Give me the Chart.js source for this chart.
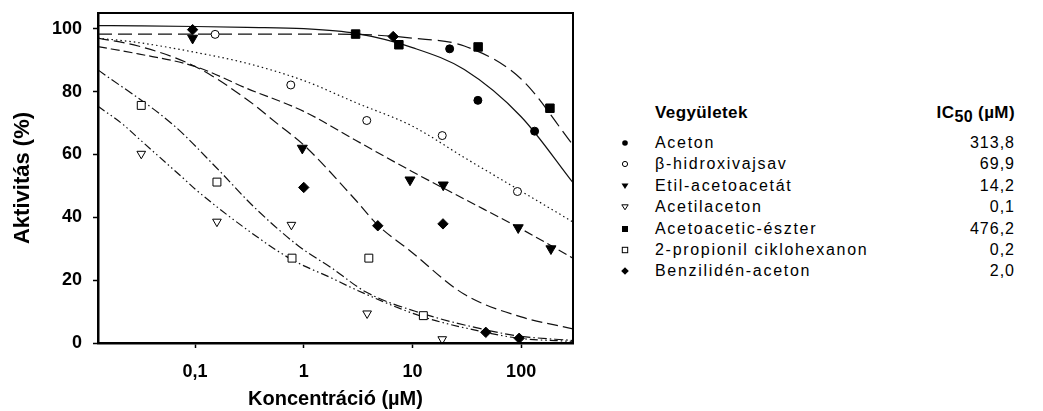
<!DOCTYPE html>
<html>
<head>
<meta charset="utf-8">
<script src="https://cdn.jsdelivr.net/npm/chart.js@4.4.0/dist/chart.umd.min.js"></script>
<style>
  body { margin: 0; background: #fff; width: 1043px; height: 411px; overflow: hidden; position: relative;
         font-family: "Liberation Sans", Arial, sans-serif; color: #000; }
  #plot { position: absolute; left: 0; top: 0; width: 600px; height: 411px; }
  .hdr { position: absolute; font-weight: bold; font-size: 17px; line-height: 18px; letter-spacing: 0.4px; white-space: nowrap; }
  .name { position: absolute; font-size: 16px; line-height: 18px; letter-spacing: 1.7px; white-space: nowrap; }
  .val { position: absolute; font-size: 16px; line-height: 18px; text-align: right; width: 90px; letter-spacing: 1px; }
  .mk { position: absolute; width: 10px; height: 10px; }
</style>
</head>
<body>
<div id="plot"><canvas id="chart"></canvas></div>
<div id="legend"></div>
<script>
// vegyületek és IC50 értékek
var compounds = ['Aceton', 'β-hidroxivajsav', 'Etil-acetoacetát', 'Acetilaceton', 'Acetoacetic-észter', '2-propionil ciklohexanon', 'Benzilidén-aceton'];
var ic50 = ['313,8', '69,9', '14,2', '0,1', '476,2', '0,2', '2,0'];

// tengely feliratai
var xTicks = [0.1, 1, 10, 100];
var xTickLabels = ['0,1', '1', '10', '100'];
var yTicks = [0, 20, 40, 60, 80, 100];

// mért pontok
var acetonX = [22, 40, 133];
var acetonY = [93.6, 77.2, 67.4];
var hidroxiX = [0.153, 0.76, 3.8, 18.8, 92.5];
var hidroxiY = [98.2, 82.1, 70.8, 66.0, 48.2];
var etilX = [0.095, 0.97, 9.5, 19.2, 94, 188];
var etilY = [97, 62, 51.9, 50.3, 36.7, 30];
var acetilX = [0.032, 0.159, 0.77, 3.83, 18.8];
var acetilY = [60.2, 38.6, 37.6, 9.4, 1.2];
var esterX = [3.0, 7.5, 40.2, 184];
var esterY = [98.3, 94.9, 94.2, 74.7];
var propX = [0.032, 0.159, 0.78, 3.97, 12.6];
var propY = [75.6, 51.2, 27.0, 27.0, 8.7];
var benzX = [0.095, 1.0, 4.8, 6.65, 19.1, 47.3, 95.9];
var benzY = [99.7, 49.5, 37.3, 97.5, 37.9, 3.4, 1.5];

// illesztett görbék
var fitX = [0.0128, 0.03, 0.1, 0.3, 1, 3, 10, 30, 100, 300];
var acetonFitY = [101, 100.9, 100.7, 100.4, 100, 98.5, 94, 87, 72, 51];
var esterFitY = [98.3, 98.3, 98.3, 98.3, 98.3, 98.2, 97, 94.5, 84, 63];
var hidroxiFitY = [97, 95.6, 92.5, 89, 83.5, 76.5, 69, 59, 48.3, 38.5];
var etilFitY = [94.3, 92, 88, 81, 73.7, 64.5, 54.5, 45.8, 36.3, 27];
var benzFitX = [0.0128, 0.03, 0.1, 0.3, 0.59, 1, 3, 4.8, 9.3, 30, 100, 300];
var benzFitY = [97, 94.5, 88, 77.5, 69.4, 63, 45.5, 37.5, 29.6, 15.5, 8.3, 4.5];
var acetilFitX = [0.0128, 0.022, 0.03, 0.084, 0.1, 0.32, 0.78, 1.82, 3, 12.3, 47, 96, 300];
var acetilFitY = [75.3, 69.4, 65.2, 51.4, 49, 35.4, 26.5, 20.6, 17, 8.4, 3.4, 1.5, 0.5];
var propFitX = [0.0128, 0.063, 0.159, 0.346, 0.9, 1.82, 3.7, 12.3, 47, 96, 300];
var propFitY = [86.9, 69.4, 55.6, 43.4, 30.8, 23.8, 16.3, 9.4, 4.2, 2.2, 0.8];

function pts(xs, ys) {
	var out = [];
	for (var i = 0; i < xs.length; i++) out.push({x: xs[i], y: ys[i]});
	return out;
}

function scatterSet(label, xs, ys, style, filled, radius, rotation) {
	return {
		label: label,
		data: pts(xs, ys),
		showLine: false,
		pointStyle: style,
		pointRadius: radius,
		pointRotation: rotation || 0,
		pointBackgroundColor: filled ? '#000' : '#fff',
		pointBorderColor: '#000',
		pointBorderWidth: 1
	};
}

function curveSet(xs, ys, dash) {
	return {
		data: pts(xs, ys),
		showLine: true,
		pointRadius: 0,
		borderColor: '#111',
		borderWidth: 1.2,
		borderDash: dash,
		cubicInterpolationMode: 'monotone',
		fill: false
	};
}

var datasets = [
	scatterSet(compounds[0], acetonX, acetonY, 'circle', true, 4),
	scatterSet(compounds[1], hidroxiX, hidroxiY, 'circle', false, 4),
	scatterSet(compounds[2], etilX, etilY, 'triangle', true, 5.8, 180),
	scatterSet(compounds[3], acetilX, acetilY, 'triangle', false, 5, 180),
	scatterSet(compounds[4], esterX, esterY, 'rect', true, 6),
	scatterSet(compounds[5], propX, propY, 'rect', false, 5.6),
	scatterSet(compounds[6], benzX, benzY, 'rectRot', true, 5.2),
	curveSet(fitX, acetonFitY, []),
	curveSet(fitX, esterFitY, [14, 6]),
	curveSet(fitX, hidroxiFitY, [1.5, 3]),
	curveSet(fitX, etilFitY, [9, 4]),
	curveSet(benzFitX, benzFitY, [11, 5]),
	curveSet(acetilFitX, acetilFitY, [8, 3, 1.5, 3, 1.5, 3]),
	curveSet(propFitX, propFitY, [9, 3, 1.5, 3])
];

// keret a rajzterület körül
var framePlugin = {
	id: 'frame',
	afterDatasetsDraw: function(chart) {
		var a = chart.chartArea, ctx = chart.ctx;
		ctx.save();
		ctx.strokeStyle = '#000';
		ctx.lineWidth = 2;
		ctx.strokeRect(a.left, a.top, a.right - a.left, a.bottom - a.top);
		ctx.restore();
	}
};

var boldFont = {family: '"Liberation Sans", Arial, sans-serif', weight: 'bold', size: 18};

function noPad(scale) {
	scale.paddingTop = 0;
	scale.paddingBottom = 0;
	scale.paddingLeft = 0;
	scale.paddingRight = 0;
}

new Chart(document.getElementById('chart'), {
	type: 'scatter',
	data: {datasets: datasets},
	plugins: [framePlugin],
	options: {
		responsive: true,
		maintainAspectRatio: false,
		animation: false,
		layout: {padding: {top: 13, right: 27, left: 0, bottom: 0}},
		plugins: {legend: {display: false}, tooltip: {enabled: false}},
		scales: {
			x: {
				type: 'logarithmic',
				min: 0.0128,
				max: 300,
				afterBuildTicks: function(scale) {
					scale.ticks = xTicks.map(function(v) { return {value: v}; });
				},
				afterFit: function(scale) { scale.height = 68; noPad(scale); },
				ticks: {
					color: '#000',
					font: boldFont,
					padding: 13,
					maxRotation: 0,
					autoSkip: false,
					callback: function(v) {
						var i = xTicks.indexOf(v);
						return i >= 0 ? xTickLabels[i] : '';
					}
				},
				grid: {display: true, drawOnChartArea: false, drawTicks: true, tickLength: 5, tickWidth: 1.5, tickColor: '#000'},
				border: {display: true, color: '#000', width: 2.5},
				title: {
					display: true,
					text: 'Koncentráció (µM)',
					color: '#000',
					font: {family: '"Liberation Sans", Arial, sans-serif', weight: 'bold', size: 20},
					padding: {top: 0, bottom: 0}
				}
			},
			y: {
				min: 0,
				max: 105,
				afterBuildTicks: function(scale) {
					scale.ticks = yTicks.map(function(v) { return {value: v}; });
				},
				afterFit: function(scale) { scale.width = 98; noPad(scale); },
				ticks: {color: '#000', font: boldFont, padding: 11},
				grid: {display: true, drawOnChartArea: false, drawTicks: true, tickLength: 5, tickWidth: 1.5, tickColor: '#000'},
				border: {display: true, color: '#000', width: 2.5},
				title: {
					display: true,
					text: 'Aktivitás (%)',
					color: '#000',
					font: {family: '"Liberation Sans", Arial, sans-serif', weight: 'bold', size: 22},
					padding: {top: 10, bottom: 0}
				}
			}
		}
	}
});

// jelmagyarázat táblázat
var markers = [
	'<circle cx="5" cy="5" r="2.8" fill="#000"/>',
	'<circle cx="5" cy="5" r="2.6" fill="none" stroke="#000" stroke-width="1"/>',
	'<polygon points="1.5,2.5 8.5,2.5 5,8" fill="#000"/>',
	'<polygon points="1.8,2.8 8.2,2.8 5,7.8" fill="none" stroke="#000" stroke-width="1"/>',
	'<rect x="2" y="2" width="6" height="6" fill="#000"/>',
	'<rect x="2.3" y="2.3" width="5.4" height="5.4" fill="none" stroke="#000" stroke-width="1"/>',
	'<polygon points="5,1.2 8.8,5 5,8.8 1.2,5" fill="#000"/>'
];
var html = '';
html += '<div class="hdr" style="left:655px;top:104px;">Vegyületek</div>';
html += '<div class="hdr" style="left:895px;width:120px;text-align:right;top:104px;">IC<span style="font-size:16px;position:relative;top:4px;">50</span> (µM)</div>';
for (var i = 0; i < compounds.length; i++) {
	var cy = 143 + i * 21.4;
	html += '<svg class="mk" style="left:620px;top:' + (cy - 5) + 'px;" viewBox="0 0 10 10">' + markers[i] + '</svg>';
	html += '<div class="name" style="left:655px;top:' + (cy - 9) + 'px;">' + compounds[i] + '</div>';
	html += '<div class="val" style="left:925px;top:' + (cy - 9) + 'px;">' + ic50[i] + '</div>';
}
document.getElementById('legend').innerHTML = html;
</script>
</body>
</html>
